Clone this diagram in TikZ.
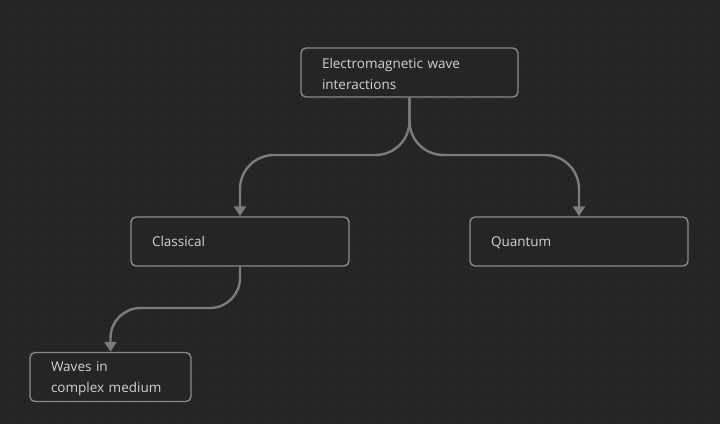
\documentclass[tikz,border=0pt]{standalone}
\usepackage{fontspec}
\setmainfont{Open Sans}
\usetikzlibrary{arrows.meta}
\definecolor{bgcol}{HTML}{252525}
\definecolor{dotcol}{HTML}{323232}
\definecolor{linecol}{HTML}{7C7C7C}
\definecolor{boxcol}{HTML}{8A8A8A}
\definecolor{txtcol}{HTML}{D2D2D2}
\tikzset{
  topic/.style={draw=boxcol,line width=1.4pt,rounded corners=5pt,fill=bgcol,
    text=txtcol,align=left,inner xsep=21pt,inner ysep=0pt,minimum height=49pt,
    execute at begin node={\rule[-4pt]{0pt}{17.2pt}},font=\fontsize{13.5}{21}\selectfont},
  link/.style={draw=linecol,line width=2.4pt,rounded corners=34pt,
    -{Triangle[length=10pt,width=12pt]}}
}
\begin{document}
\begin{tikzpicture}[x=1pt,y=-1pt]
        \fill[bgcol] (0,0) rectangle (720,424);
        \useasboundingbox (0,0) rectangle (720,424);
        \foreach \i in {0,...,41}
          \foreach \j in {0,...,24}
            \fill[dotcol] (12+17*\i,13.7+17*\j) circle (0.8pt);

        \begin{scope}[every node/.style={topic}]
          \node[text width=175pt] (em)       at (409.5,72.5) {Electromagnetic wave\\interactions};
          \node[text width=176pt] (classic)  at (240,241.5)  {Classical};
          \node[text width=176pt] (quantum)  at (579,241.5)  {Quantum};
          \node[text width=119pt] (complex)  at (110.5,377)  {Waves in\\complex medium};
        \end{scope}

        \draw[link] (em.south) |- (324,155) -| (classic.north);
        \draw[link] (em.south) |- (494,155) -| (quantum.north);
        \draw[link,rounded corners=30pt] (classic.south) |- (175,308) -| (complex.north);

      \end{tikzpicture}
\end{document}
